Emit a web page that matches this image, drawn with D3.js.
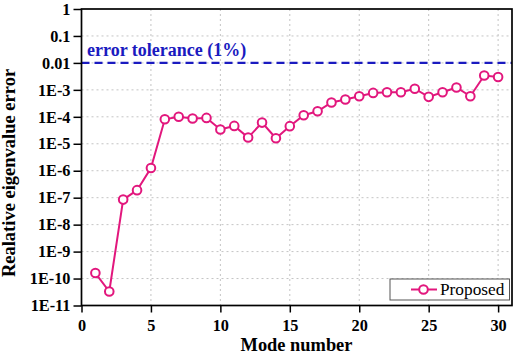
<!DOCTYPE html>
<html><head><meta charset="utf-8">
<script src="https://cdn.jsdelivr.net/npm/d3@7"></script>
<style>body{margin:0;background:#fff}svg{display:block}</style>
</head><body>
<svg id="c" width="522" height="358"></svg>
<script>
const modes = d3.range(1, 31);
const errors = [1.6e-10, 3.3e-11, 8.5e-8, 1.9e-7, 1.26e-6, 8.1e-5, 1.0e-4, 8.7e-5, 9.1e-5, 3.4e-5,
  4.6e-5, 1.7e-5, 6.1e-5, 1.6e-5, 4.5e-5, 1.15e-4, 1.6e-4, 3.4e-4, 4.4e-4, 5.8e-4,
  7.7e-4, 8.2e-4, 8.2e-4, 1.1e-3, 5.5e-4, 8.2e-4, 1.23e-3, 5.8e-4, 3.4e-3, 3.0e-3];
const yTickVals = [1, 0.1, 0.01, 1e-3, 1e-4, 1e-5, 1e-6, 1e-7, 1e-8, 1e-9, 1e-10, 1e-11];
const yTickLabels = ["1", "0.1", "0.01", "1E-3", "1E-4", "1E-5", "1E-6", "1E-7", "1E-8", "1E-9", "1E-10", "1E-11"];
const xTickVals = [0, 5, 10, 15, 20, 25, 30];
const tolerance = 0.01;

const L = 81.5, R = 512, T = 9, B = 305.5;
const svg = d3.select("#c");
const font = "'Liberation Serif','Times New Roman',serif";
const x = d3.scaleLinear().domain([0, 31]).range([L, R]);
const y = d3.scaleLog().domain([1e-11, 1]).range([B, T]);

// grid
const g = svg.append("g");
g.selectAll("line.gx").data(xTickVals.filter(v => v > 0)).enter().append("line")
  .attr("x1", d => x(d)).attr("x2", d => x(d)).attr("y1", T).attr("y2", B)
  .attr("stroke", "#c4c4c4").attr("stroke-width", 1).attr("stroke-dasharray", "2,3");
g.selectAll("line.gy").data(yTickVals.filter(v => v < 1 && v > 1e-11)).enter().append("line")
  .attr("x1", L).attr("x2", R).attr("y1", d => y(d)).attr("y2", d => y(d))
  .attr("stroke", "#c4c4c4").attr("stroke-width", 1).attr("stroke-dasharray", "2,3");

// tolerance line
svg.append("line").attr("x1", L).attr("x2", R).attr("y1", y(tolerance)).attr("y2", y(tolerance))
  .attr("stroke", "#1a1ac0").attr("stroke-width", 2.2).attr("stroke-dasharray", "8,5");
svg.append("text").attr("x", 87).attr("y", y(tolerance) - 7).text("error tolerance (1%)")
  .attr("font-family", font).attr("font-weight", "bold").attr("font-size", 18).attr("fill", "#1a1ac0");

// axes
const yAxis = d3.axisLeft(y).tickValues(yTickVals).tickFormat((d, i) => yTickLabels[i]).tickSize(8).tickPadding(3);
const xAxis = d3.axisBottom(x).tickValues(xTickVals).tickFormat(d3.format("d")).tickSize(7).tickPadding(7);
const ya = svg.append("g").attr("transform", `translate(${L},0)`).call(yAxis);
const xa = svg.append("g").attr("transform", `translate(0,${B})`).call(xAxis);
[ya, xa].forEach(a => {
  a.select(".domain").remove();
  a.selectAll(".tick line").attr("stroke", "#000").attr("stroke-width", 1.5);
  a.selectAll("text").attr("font-family", font).attr("font-weight", "bold").attr("font-size", 16.3).attr("fill", "#000");
});
// frame
svg.append("rect").attr("x", L).attr("y", T).attr("width", R - L).attr("height", B - T)
  .attr("fill", "none").attr("stroke", "#000").attr("stroke-width", 1.7);

// series
const col = "#e2177d";
svg.append("path").datum(modes.map((m, i) => [m, errors[i]]))
  .attr("d", d3.line().x(d => x(d[0])).y(d => y(d[1])))
  .attr("fill", "none").attr("stroke", col).attr("stroke-width", 2);
svg.selectAll("circle.pt").data(modes.map((m, i) => [m, errors[i]])).enter().append("circle")
  .attr("cx", d => x(d[0])).attr("cy", d => y(d[1])).attr("r", 4.3)
  .attr("fill", "#fff").attr("stroke", col).attr("stroke-width", 2);

// legend
const lg = svg.append("g");
lg.append("rect").attr("x", 390).attr("y", 279).attr("width", 119.5).attr("height", 21)
  .attr("fill", "#fff").attr("stroke", "#555").attr("stroke-width", 1);
lg.append("line").attr("x1", 411).attr("x2", 437).attr("y1", 289.5).attr("y2", 289.5).attr("stroke", col).attr("stroke-width", 2);
lg.append("circle").attr("cx", 423.5).attr("cy", 289.5).attr("r", 4.3).attr("fill", "#fff").attr("stroke", col).attr("stroke-width", 2);
lg.append("text").attr("x", 440).attr("y", 295).text("Proposed")
  .attr("font-family", font).attr("font-size", 17.3).attr("fill", "#000");

// titles
svg.append("text").attr("x", 296.5).attr("y", 351).attr("text-anchor", "middle").text("Mode number")
  .attr("font-family", font).attr("font-weight", "bold").attr("font-size", 18.4);
svg.append("text").attr("transform", `translate(15,173) rotate(-90)`).attr("text-anchor", "middle")
  .text("Realative eigenvalue error")
  .attr("font-family", font).attr("font-weight", "bold").attr("font-size", 18.5);
</script>
</body></html>
